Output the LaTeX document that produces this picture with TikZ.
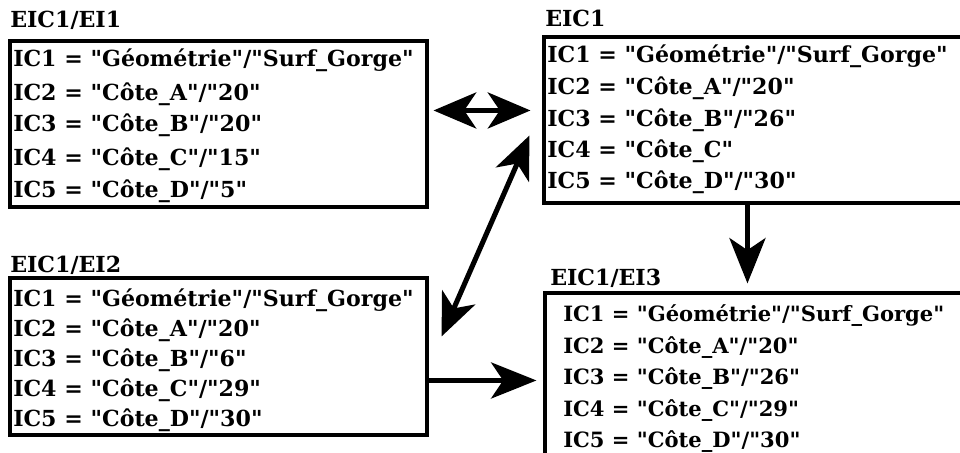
\documentclass[tikz,border=0pt]{standalone}
\usepackage{fontspec}
\setmainfont{DejaVu Serif}[Ligatures=TeXOff]
\usetikzlibrary{arrows.meta,calc,fit}
\begin{document}
\begin{tikzpicture}[x=0.75pt,y=-0.75pt,
  box/.style={draw, line width=2.3pt, inner sep=0pt},
  row/.style={anchor=base west, inner sep=0pt, font=\fontsize{16.6}{18}\selectfont\bfseries},
  rowsm/.style={anchor=base west, inner sep=0pt, font=\fontsize{15.8}{18}\selectfont\bfseries},
  lbl/.style={anchor=base west, inner sep=0pt, font=\fontsize{16.6}{18}\selectfont\bfseries},
  big/.style={line width=3.8pt, -{Stealth[length=34pt,width=27pt,inset=9pt]}},
  bigboth/.style={line width=3.8pt, {Stealth[length=32pt,width=27pt,inset=9pt]}-{Stealth[length=32pt,width=27pt,inset=9pt]}}]
\useasboundingbox (0,0) rectangle (960,453);
\clip (0,0) rectangle (960,453);
\fill[white] (0,0) rectangle (960,453);

% boxes
\node[box, fit={(10,41) (427,207)}] (b1) {};
\node[box, fit={(544,37) (1000,203)}] (b2) {};
\node[box, fit={(10,278) (427,435)}] (b3) {};
\node[box, fit={(545,293) (1000,480)}] (b4) {};

% labels
\node[lbl] (l1) at (10,28) {EIC1/EI1};
\node[lbl] (l2) at (545,27) {EIC1};
\node[lbl] (l3) at (10,272) {EIC1/EI2};
\node[lbl] (l4) at (550,285) {EIC1/EI3};

% EI1 rows
\node[row] (a1) at (13,67) {IC1 = "Géométrie"/"Surf\_Gorge"};
\node[row] (a2) at (13,100) {IC2 = "Côte\_A"/"20"};
\node[row] (a3) at (13,132) {IC3 = "Côte\_B"/"20"};
\node[row] (a4) at (13,165) {IC4 = "Côte\_C"/"15"};
\node[row] (a5) at (13,197) {IC5 = "Côte\_D"/"5"};

% EIC1 rows
\node[row] (c1) at (547,63) {IC1 = "Géométrie"/"Surf\_Gorge"};
\node[row] (c2) at (547,94) {IC2 = "Côte\_A"/"20"};
\node[row] (c3) at (547,126) {IC3 = "Côte\_B"/"26"};
\node[row] (c4) at (547,157) {IC4 = "Côte\_C"};
\node[row] (c5) at (547,188) {IC5 = "Côte\_D"/"30"};

% EI2 rows
\node[row] (d1) at (13,306) {IC1 = "Géométrie"/"Surf\_Gorge"};
\node[row] (d2) at (13,336) {IC2 = "Côte\_A"/"20"};
\node[row] (d3) at (13,366) {IC3 = "Côte\_B"/"6"};
\node[row] (d4) at (13,396) {IC4 = "Côte\_C"/"29"};
\node[row] (d5) at (13,426) {IC5 = "Côte\_D"/"30"};

% EI3 rows
\node[rowsm] (e1) at (563,321) {IC1 = "Géométrie"/"Surf\_Gorge"};
\node[rowsm] (e2) at (563,353) {IC2 = "Côte\_A"/"20"};
\node[rowsm] (e3) at (563,384) {IC3 = "Côte\_B"/"26"};
\node[rowsm] (e4) at (563,416) {IC4 = "Côte\_C"/"29"};
\node[rowsm] (e5) at (563,447) {IC5 = "Côte\_D"/"30"};

% connectors
\coordinate (p1) at ($(b1.north east)+(5,71)$);
\coordinate (p2) at ($(b2.north west)+(-12,75)$);
\draw[bigboth] (p1) -- (p2);

\coordinate (q1) at ($(b3.north east)+(13,60)$);
\coordinate (q2) at ($(b2.north west)+(-13,100)$);
\draw[bigboth] (q1) -- (q2);

\coordinate (r1) at ($(b2.south west)+(205,0)$);
\coordinate (r2) at ($(b4.north west)+(204,-8)$);
\draw[big] (r1) -- (r2);

\coordinate (s1) at ($(b3.north east)+(0,104)$);
\coordinate (s2) at ($(b4.north west)+(-7,89)$);
\draw[big] (s1) -- (s2);
\end{tikzpicture}
\end{document}
